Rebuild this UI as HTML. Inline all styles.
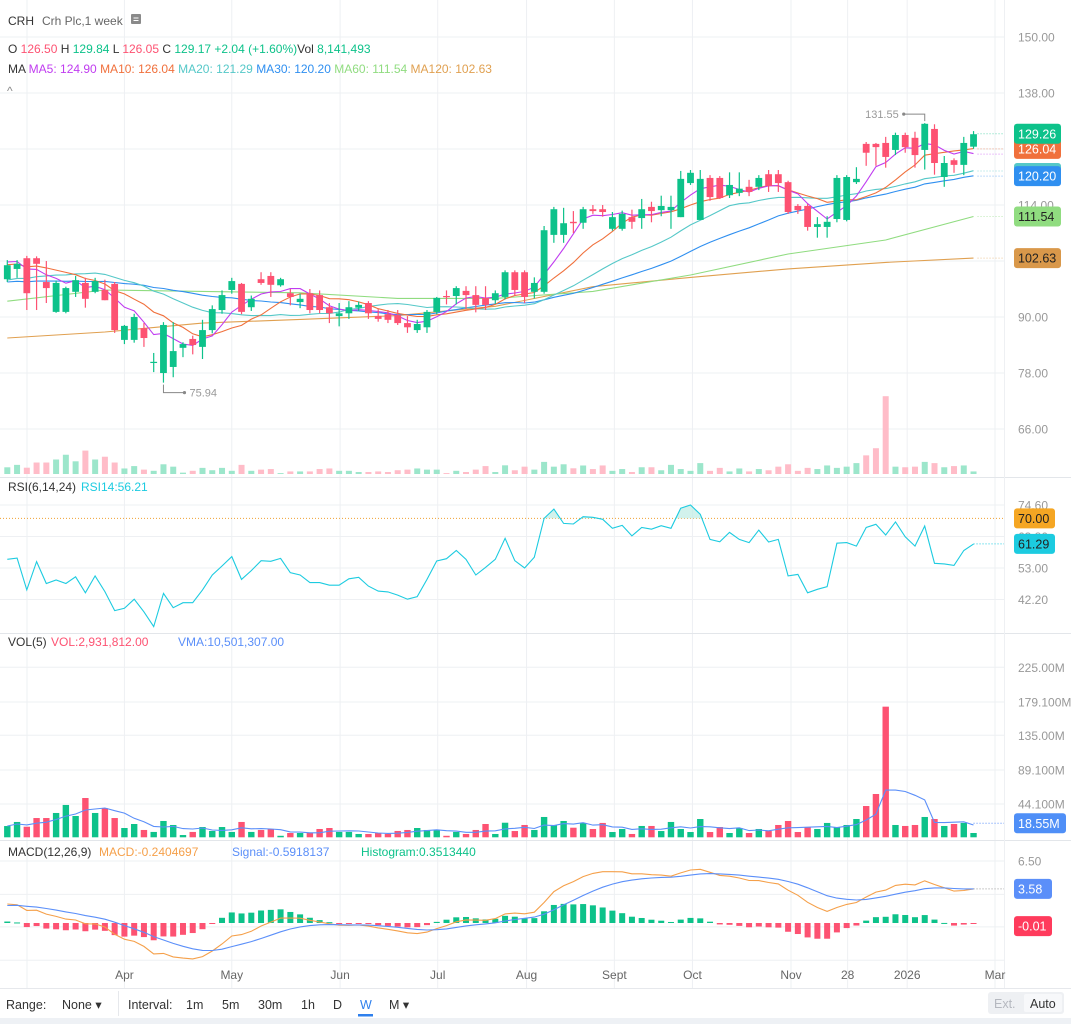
<!DOCTYPE html>
<html><head><meta charset="utf-8"><title>CRH weekly chart</title>
<style>
html,body{margin:0;padding:0;background:#fff;}
svg{display:block;font-family:"Liberation Sans",sans-serif;}
</style></head>
<body>
<svg id="chart" width="1071" height="1024" viewBox="0 0 1071 1024" xmlns="http://www.w3.org/2000/svg">
<rect x="0" y="0" width="1071" height="1024" fill="#ffffff"/>
<g id="grid"></g>
<g id="main"></g>
<g id="rsi"></g>
<g id="vol"></g>
<g id="macd"></g>
<g id="axis"></g>

<g font-size="12">
<text x="8" y="25" fill="#333">CRH</text>
<text x="42" y="25" fill="#666">Crh Plc,1 week</text>
<rect x="131" y="14" width="10" height="10" rx="1" fill="#8a8a8a"/>
<line x1="133.5" y1="18" x2="138.5" y2="18" stroke="#fff" stroke-width="1"/>
<line x1="133.5" y1="20.5" x2="138.5" y2="20.5" stroke="#fff" stroke-width="1"/>
</g>
<text x="8" y="53" font-size="12"><tspan fill="#333">O </tspan><tspan fill="#fd5272">126.50  </tspan><tspan fill="#333">H </tspan><tspan fill="#0dc28a">129.84  </tspan><tspan fill="#333">L </tspan><tspan fill="#fd5272">126.05  </tspan><tspan fill="#333">C </tspan><tspan fill="#0dc28a">129.17  +2.04 (+1.60%)</tspan><tspan fill="#333">Vol </tspan><tspan fill="#0dc28a">8,141,493</tspan></text>
<text x="8" y="73" font-size="12"><tspan fill="#333">MA </tspan><tspan fill="#c03cf0">MA5: 124.90 </tspan><tspan fill="#f0703c">MA10: 126.04 </tspan><tspan fill="#55c8c8">MA20: 121.29 </tspan><tspan fill="#2f8ff0">MA30: 120.20 </tspan><tspan fill="#90dc80">MA60: 111.54 </tspan><tspan fill="#e0a050">MA120: 102.63</tspan></text>
<text x="7" y="95" fill="#888" font-size="12">^</text>

<g font-size="12">
<text x="8" y="491" fill="#333">RSI(6,14,24)</text>
<text x="81" y="491" fill="#1ccbe0">RSI14:56.21</text>
</g>
<g font-size="12">
<text x="8" y="646" fill="#333">VOL(5)</text>
<text x="51" y="646" fill="#fd5272">VOL:2,931,812.00</text>
<text x="178" y="646" fill="#5b8ff9">VMA:10,501,307.00</text>
</g>
<g font-size="12">
<text x="8" y="856" fill="#333">MACD(12,26,9)</text>
<text x="99" y="856" fill="#f5a04a">MACD:-0.2404697</text>
<text x="232" y="856" fill="#5b8ff9">Signal:-0.5918137</text>
<text x="361" y="856" fill="#0dc28a">Histogram:0.3513440</text>
</g>

<g id="xaxis" font-size="12" fill="#666"></g>

<g font-size="12.5" fill="#333">
<line x1="0" y1="988.5" x2="1071" y2="988.5" stroke="#e6e8ec"/>
<line x1="118.5" y1="991" x2="118.5" y2="1016" stroke="#e6e8ec"/>
<text x="6" y="1009">Range:</text>
<text x="62" y="1009">None ▾</text>
<text x="128" y="1009">Interval:</text>
<text x="186" y="1009">1m</text>
<text x="222" y="1009">5m</text>
<text x="258" y="1009">30m</text>
<text x="301" y="1009">1h</text>
<text x="333" y="1009">D</text>
<text x="360" y="1009" fill="#2f80ed">W</text>
<rect x="358" y="1014" width="15" height="2.5" fill="#2f80ed"/>
<text x="389" y="1009">M ▾</text>
<rect x="988" y="992" width="76" height="22" rx="3" fill="#eef0f3"/>
<rect x="1024" y="994" width="38" height="18" rx="2" fill="#f7f8fa"/>
<text x="994" y="1008" fill="#b5b8bf">Ext.</text>
<text x="1030" y="1008" fill="#333">Auto</text>
<rect x="0" y="1018" width="1071" height="6" fill="#eef1f5"/>
</g>
</svg>
<script>
// ---------- DATA ----------
const opens  = [98.1,100.3,102.6,102.6,97.5,91.1,91.1,95.4,97.3,95.4,95.8,97.1,85.1,85.1,87.6,80.2,78.0,79.3,83.4,85.3,83.6,87.2,91.5,95.8,97.1,92.1,98.1,98.8,96.8,95.1,93.2,95.1,94.7,92.1,90.2,90.8,92.0,93.0,90.2,90.6,90.4,88.7,87.2,87.8,91.1,94.5,94.5,95.6,94.7,94.1,93.6,94.3,99.6,99.6,95.4,95.4,107.6,107.6,110.4,110.2,113.1,113.1,108.9,108.9,111.4,111.2,113.6,112.9,112.9,111.4,118.7,110.8,119.8,119.8,116.1,116.6,117.9,117.9,120.6,120.6,118.9,113.8,113.8,109.3,109.3,111.0,110.8,118.9,127.1,127.1,127.3,125.8,129.0,128.4,125.8,130.3,120.0,123.6,122.6,126.5];
const highs  = [102.2,102.2,103.1,103.0,102.0,97.8,96.5,98.8,98.4,98.4,98.0,97.5,88.3,90.7,88.7,82.3,88.9,88.9,84.6,86.0,89.4,92.5,95.7,98.4,97.3,94.6,99.6,99.6,98.4,96.0,95.0,96.0,95.7,93.0,93.0,93.4,93.3,93.4,91.7,91.5,91.5,90.2,89.4,91.5,94.3,95.7,96.6,96.6,96.6,96.6,95.7,100.0,100.0,100.0,98.5,109.5,113.6,113.4,112.7,113.6,114.0,114.0,112.5,112.8,113.0,115.3,114.7,116.0,116.0,121.3,121.5,121.5,120.4,120.2,121.0,121.0,119.4,120.4,121.5,121.5,119.2,114.2,114.2,111.4,111.6,120.4,120.4,122.1,127.5,127.3,128.6,129.5,129.5,129.7,131.55,131.3,124.5,124.0,128.6,129.84];
const lows   = [97.5,98.4,91.5,91.5,93.0,90.9,90.8,94.3,92.0,95.1,93.6,86.6,84.2,84.5,83.6,78.2,75.94,77.1,81.4,82.0,81.0,86.5,90.7,95.0,90.6,91.3,96.9,94.3,96.5,92.5,91.9,90.8,90.8,88.7,88.0,89.6,91.3,89.6,89.0,88.7,88.3,86.6,86.6,86.6,90.6,92.7,92.7,91.7,91.0,91.5,92.8,93.8,94.5,93.0,94.0,95.0,105.9,105.9,108.0,108.9,112.1,111.5,108.5,108.5,108.9,108.9,110.3,111.6,108.9,111.4,118.3,110.8,114.9,115.3,115.5,115.9,115.9,117.2,116.8,116.8,112.1,112.1,108.5,107.0,107.0,110.3,110.5,118.5,122.4,122.4,122.0,124.7,125.2,122.0,121.6,120.5,117.9,120.9,120.4,126.05];
const closes = [101.1,101.4,95.1,101.4,96.2,97.3,96.2,97.9,93.9,97.7,93.6,87.2,88.1,90.0,85.5,80.4,88.3,82.7,84.2,84.0,87.2,91.7,94.7,97.7,91.1,93.9,97.3,96.9,98.1,94.3,93.9,91.5,91.5,90.8,90.8,92.1,92.6,90.8,89.6,89.4,88.7,87.8,88.5,91.1,94.1,94.3,96.2,94.7,92.6,92.6,95.1,99.6,95.8,94.3,97.3,108.6,113.1,110.1,110.1,113.1,112.7,112.5,111.4,112.1,110.4,113.1,112.7,113.8,113.6,119.6,120.9,119.6,115.7,115.5,118.3,117.5,116.8,119.8,118.1,118.7,112.5,112.9,109.3,109.9,110.4,119.8,120.0,119.6,125.2,126.4,124.3,129.0,126.4,124.7,131.4,123.0,123.0,122.6,127.3,129.17];
const volumes= [14.9,20.3,14,25.5,25.5,32.2,42.8,28.2,52,32.2,38.4,25.5,12.3,17.6,9.7,7.1,21.6,16.3,3,7.1,13.6,8.4,13.6,7.1,20.3,7.1,9.7,11,2,5.7,5.7,5.7,11,12.3,7.1,7.1,4.4,4.4,5.7,4.4,8.4,9.7,12.3,9.7,9.7,2,7.1,4.4,9.7,17.6,4.4,19.3,8.3,16.3,9.7,26.9,16.3,21.6,12.7,18.9,11,19,7,11,4.4,15,15,8.3,20.3,11,7,24.2,7,13.6,5.7,12.3,5.7,11,8.3,16.3,21.6,7,13.6,11,19,13.6,16.3,24.2,41.4,57.3,172.9,16.3,15,16.3,26.9,24.2,15,17.6,19,5.7];
const rsiValues = [56.0,56.4,45.5,55.2,47.7,48.9,47.7,50.0,44.5,50.3,44.9,38.4,39.2,42.3,38.0,32.9,44.3,39.4,41.1,41.1,45.5,50.6,53.7,56.9,49.1,52.1,55.5,55.3,56.3,51.4,50.6,48.0,48.0,47.1,47.1,49.3,49.8,46.8,45.1,44.8,43.7,42.3,43.2,49.1,55.4,56.2,59.0,56.0,50.6,53.2,56.0,63.2,55.5,53.0,56.7,70.0,73.2,68.3,68.1,70.6,70.4,69.7,66.6,67.6,64.0,66.9,66.3,67.5,66.6,73.5,74.6,71.4,62.8,62.0,65.2,62.8,61.7,66.0,61.9,62.8,50.3,50.8,44.5,45.7,46.6,61.5,61.7,60.5,66.9,68.0,64.3,68.8,63.7,60.5,67.4,54.6,54.4,53.9,59.0,61.2];
const priorCloses = [96,97,98,97,96,97,98,97,96,98,93,94,95,94,93,94,95,94,93,95,99,100,101,100,100,102,101,103,102,102];
const ma60Points  = [[0,93.4],[10,95.8],[20,95.5],[30,95.2],[40,94.0],[50,94.0],[60,95.5],[70,99.0],[80,103.5],[90,106.5],[99,111.54]];
const ma120Points = [[0,85.5],[10,86.8],[20,88.7],[30,89.5],[40,90.3],[50,92.3],[60,96.5],[70,98.5],[80,100.3],[90,101.7],[99,102.63]];
const priceTicks = [150,138,126,114,102,90,78,66];
const priceTickLabels = ["150.00","138.00","","114.00","","90.00","78.00","66.00"];
const rsiTicks = [74.6,63.8,53.0,42.2];
const rsiTickLabels = ["74.60","63.80","53.00","42.20"];
const volTicks = [225,179.1,135,89.1,44.1];
const volTickLabels = ["225.00M","179.100M","135.00M","89.100M","44.100M"];
const macdTicks = [6.5,3.0,-0.4,-3.9];
const macdTickLabels = ["6.50","","",""];
const monthLabels = ["Apr","May","Jun","Jul","Aug","Sept","Oct","Nov","28","2026","Mar"];
const monthIdx = [12.0,23.0,34.1,44.1,53.2,62.2,70.2,80.3,86.1,92.2,101.2];

// ---------- SCALES ----------
const NS="http://www.w3.org/2000/svg";
const GREEN="#0dc28a", RED="#fd5272";
const PLOT_R=1004;
function xI(i){return 7.3+9.76*i;}
function yP(p){return 37+(150-p)*4.667;}
function yR(v){return 505+(74.6-v)*2.917;}
function yV(v){return 837.3-v/1.3235;}
function yVo(v){return 474-v*0.45;}
function yM(v){return 923-v*9.54;}
function mk(tag,attrs,parent){const e=document.createElementNS(NS,tag);for(const k in attrs)e.setAttribute(k,attrs[k]);parent.appendChild(e);return e;}
const G=id=>document.getElementById(id);

// ---------- GRID ----------
const grid=G('grid');
function hline(y,x2){const l=mk('line',{x1:0,y1:y,x2:x2||PLOT_R,y2:y,stroke:'#eef0f3','stroke-width':1},grid);return l;}
priceTicks.forEach(p=>{const l=hline(yP(p));});
rsiTicks.forEach(v=>{const l=hline(yR(v));});
volTicks.forEach(v=>{const l=hline(yV(v));});
macdTicks.forEach(v=>{const l=hline(yM(v));});
[27].concat(monthIdx.map(xI)).forEach(x=>{
  const l=mk('line',{x1:x,y1:0,x2:x,y2:988,stroke:'#eef0f3','stroke-width':1},grid);
  
  
});
[477,633,840].forEach(y=>{
  const l=mk('line',{x1:0,y1:y+0.5,x2:1071,y2:y+0.5,stroke:'#e3e6ea','stroke-width':1},grid);
  
  
});
const ax=mk('line',{x1:PLOT_R+0.5,y1:0,x2:PLOT_R+0.5,y2:988,stroke:'#eef0f3'},grid);



// ---------- MAIN PANE ----------
const main=G('main');
volumes.forEach((v,i)=>{
  const up=closes[i]>=opens[i];
  const r=mk('rect',{x:xI(i)-3,y:yVo(v),width:6,height:474-yVo(v),fill:up?'#9ce6cb':'#ffbcc8'},main);
  
  
});
function sma(arr,n,i){let s=0;for(let k=i-n+1;k<=i;k++)s+=arr[k];return s/n;}
const all=priorCloses.concat(closes), off=priorCloses.length;
function maPath(n){let d='';closes.forEach((c,i)=>{const v=sma(all,n,i+off);d+=(i?'L':'M')+xI(i).toFixed(1)+','+yP(v).toFixed(1);});return d;}
function ptsPath(pts){return pts.map((p,k)=>(k?'L':'M')+xI(p[0]).toFixed(1)+','+yP(p[1]).toFixed(1)).join('');}
const maDefs=[['ma120-line',ptsPath(ma120Points),'#e0a050'],['ma60-line',ptsPath(ma60Points),'#90dc80'],['ma30-line',maPath(30),'#2f8ff0'],['ma20-line',maPath(20),'#55c8c8'],['ma10-line',maPath(10),'#f0703c'],['ma5-line',maPath(5),'#c03cf0']];
maDefs.forEach(m=>{
  const p=mk('path',{d:m[1],fill:'none',stroke:m[2],'stroke-width':1.1},main);
  
  
});
closes.forEach((c,i)=>{
  const o=opens[i],up=c>=o,col=up?GREEN:RED,x=xI(i);
  const g=mk('g',{},main);
  
  
  mk('line',{x1:x,y1:yP(highs[i]),x2:x,y2:yP(lows[i]),stroke:col,'stroke-width':1.2},g);
  const t=Math.min(yP(o),yP(c)),h=Math.max(1.2,Math.abs(yP(o)-yP(c)));
  mk('rect',{x:x-3.4,y:t,width:6.8,height:h,fill:col},g);
});
[[129.26,'#0dc28a'],[126.04,'#f0703c'],[124.9,'#c03cf0'],[121.29,'#55c8c8'],[120.2,'#2f8ff0'],[111.54,'#90dc80'],[102.63,'#e0a050']].forEach(a=>{
  const l=mk('line',{x1:xI(99)+4,y1:yP(a[0]),x2:PLOT_R,y2:yP(a[0]),stroke:a[1],'stroke-width':1,'stroke-dasharray':'1,2',opacity:0.6},main);
  
  
});
(function(){
  let hi=0,lo=0;highs.forEach((h,i)=>{if(h>highs[hi])hi=i;});lows.forEach((l,i)=>{if(l<lows[lo])lo=i;});
  const hx=xI(hi),hy=yP(highs[hi]);
  const ga=mk('g',{},main);
  
  
  mk('path',{d:`M${hx},${hy-2}V${hy-9}H${hx-21}`,fill:'none',stroke:'#888'},ga);
  mk('circle',{cx:hx-21,cy:hy-9,r:1.6,fill:'#888'},ga);
  const ht=mk('text',{x:hx-26,y:hy-5,'font-size':11,fill:'#999','text-anchor':'end'},ga);ht.textContent=highs[hi].toFixed(2);
  const lx=xI(lo),ly=yP(lows[lo]);
  const gb=mk('g',{},main);
  
  
  mk('path',{d:`M${lx},${ly+2}V${ly+10}H${lx+21}`,fill:'none',stroke:'#888'},gb);
  mk('circle',{cx:lx+21,cy:ly+10,r:1.6,fill:'#888'},gb);
  const lt=mk('text',{x:lx+26,y:ly+14,'font-size':11,fill:'#999'},gb);lt.textContent=lows[lo].toFixed(2);
})();

// ---------- RSI ----------
const rsi=G('rsi');
const l70=mk('line',{x1:0,y1:yR(70),x2:PLOT_R,y2:yR(70),stroke:'#f0a030','stroke-width':1,'stroke-dasharray':'1,2'},rsi);


(function(){
  let i=0;
  while(i<rsiValues.length){
    if(rsiValues[i]>70){
      let s=i;while(i<rsiValues.length&&rsiValues[i]>70)i++;let e=i-1;
      let pts=[];
      const xs0=s>0?xI(s-1)+(xI(s)-xI(s-1))*(70-rsiValues[s-1])/(rsiValues[s]-rsiValues[s-1]):xI(s);
      pts.push([xs0,yR(70)]);
      for(let k=s;k<=e;k++)pts.push([xI(k),yR(rsiValues[k])]);
      const xe=e<rsiValues.length-1?xI(e)+(xI(e+1)-xI(e))*(rsiValues[e]-70)/(rsiValues[e]-rsiValues[e+1]):xI(e);
      pts.push([xe,yR(70)]);
      const p=mk('polygon',{points:pts.map(q=>q.join(',')).join(' '),fill:'#bfece4',opacity:0.7},rsi);
      
      
    } else i++;
  }
})();
const rp=mk('path',{d:rsiValues.map((v,i)=>(i?'L':'M')+xI(i).toFixed(1)+','+yR(v).toFixed(1)).join(''),fill:'none',stroke:'#1ccbe0','stroke-width':1.1},rsi);


const rg=mk('line',{x1:xI(99),y1:yR(61.29),x2:PLOT_R,y2:yR(61.29),stroke:'#1ccbe0','stroke-dasharray':'1,2'},rsi);



// ---------- VOLUME ----------
const vol=G('vol');
volumes.forEach((v,i)=>{
  const up=closes[i]>=opens[i];
  const r=mk('rect',{x:xI(i)-3.2,y:yV(v),width:6.4,height:837.3-yV(v),fill:up?GREEN:RED},vol);
  
  
});
let vd='';volumes.forEach((v,i)=>{let s=0,n=0;for(let k=Math.max(0,i-4);k<=i;k++){s+=volumes[k];n++;}vd+=(i?'L':'M')+xI(i).toFixed(1)+','+yV(s/n).toFixed(1);});
const vp=mk('path',{d:vd,fill:'none',stroke:'#5b8ff9','stroke-width':1.1},vol);


const vg=mk('line',{x1:xI(99),y1:yV(18.55),x2:PLOT_R,y2:yV(18.55),stroke:'#5b8ff9','stroke-dasharray':'1,2'},vol);



// ---------- MACD ----------
const macdG=G('macd');
let e12=100.5,e26=98.4,sig=1.8;const macdV=[],sigV=[],histV=[];
closes.forEach(c=>{e12+=(c-e12)*2/13;e26+=(c-e26)*2/27;const m=e12-e26;sig+=(m-sig)*2/10;macdV.push(m);sigV.push(sig);histV.push(m-sig);});
histV.forEach((h,i)=>{
  const y0=yM(0),y1=yM(h);
  const r=mk('rect',{x:xI(i)-3,y:Math.min(y0,y1),width:6,height:Math.max(1,Math.abs(y1-y0)),fill:h>=0?GREEN:RED},macdG);
  
  
});
const mp=mk('path',{d:macdV.map((v,i)=>(i?'L':'M')+xI(i).toFixed(1)+','+yM(v).toFixed(1)).join(''),fill:'none',stroke:'#f5a04a','stroke-width':1.1},macdG);


const sp=mk('path',{d:sigV.map((v,i)=>(i?'L':'M')+xI(i).toFixed(1)+','+yM(v).toFixed(1)).join(''),fill:'none',stroke:'#5b8ff9','stroke-width':1.1},macdG);


const mg=mk('line',{x1:xI(99),y1:yM(3.58),x2:PLOT_R,y2:yM(3.58),stroke:'#999','stroke-dasharray':'1,2'},macdG);



// ---------- AXES ----------
const axis=G('axis');
function lbl(x,y,t,name){const e=mk('text',{x:x,y:y,'font-size':12,fill:'#999'},axis);e.textContent=t;return e;}
priceTicks.forEach((p,k)=>{if(priceTickLabels[k])lbl(1018,yP(p)+4.5,priceTickLabels[k],'price-tick-label');});
rsiTicks.forEach((v,k)=>lbl(1018,yR(v)+4.5,rsiTickLabels[k],'rsi-tick-label'));
volTicks.forEach((v,k)=>lbl(1018,yV(v)+4.5,volTickLabels[k],'volume-tick-label'));
macdTicks.forEach((v,k)=>{if(macdTickLabels[k])lbl(1018,yM(v)+4.5,macdTickLabels[k],'macd-tick-label');});
function badge(y,t,bg,fg,name,w){
  const g=mk('g',{},axis);
  
  
  mk('rect',{x:1014,y:y-10,width:w||47,height:20,rx:3,fill:bg},g);
  const e=mk('text',{x:1018,y:y+4.5,'font-size':12.5,fill:fg},g);e.textContent=t;
}
badge(yP(121.29)+2,'121.29','#55c8c8','#fff','ma20-badge');
badge(yP(126.04),'126.04','#f0703c','#fff','ma10-badge');
badge(yP(129.26),'129.26',GREEN,'#fff','last-price-badge');
badge(yP(120.2),'120.20','#2f8ff0','#fff','ma30-badge');
badge(yP(111.54),'111.54','#90dc80','#222','ma60-badge');
badge(yP(102.63),'102.63','#d9984a','#222','ma120-badge');
badge(yR(70),'70.00','#f5a623','#222','rsi-70-badge',41);
badge(yR(61.29),'61.29','#1ccbe0','#222','rsi-value-badge',41);
badge(yV(18.55),'18.55M','#4f8ff7','#fff','vma-value-badge',52);
badge(yM(3.58),'3.58','#5b8ff9','#fff','signal-value-badge',38);
badge(yM(-0.01)+3,'-0.01','#ff3b5c','#fff','histogram-value-badge',38);

const xa=G('xaxis');
monthLabels.forEach((m,k)=>{
  const e=mk('text',{x:xI(monthIdx[k]),y:979,'text-anchor':'middle'},xa);
  e.textContent=m;
  
  
});
</script>
</body></html>
